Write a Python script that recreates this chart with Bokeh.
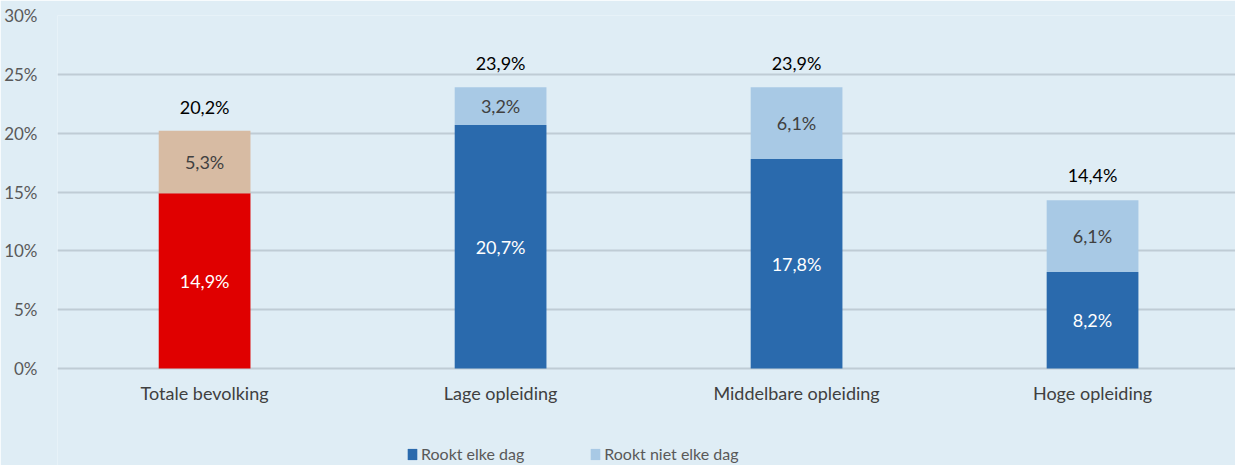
from bokeh.plotting import figure
from bokeh.models import (ColumnDataSource, Range1d, FixedTicker, PrintfTickFormatter,
                          Legend, LegendItem)
from bokeh.core.properties import value
from bokeh.embed import file_html
from bokeh.resources import INLINE

categories = ["Totale bevolking", "Lage opleiding", "Middelbare opleiding", "Hoge opleiding"]
daily = [14.9, 20.7, 17.8, 8.2]
nondaily = [5.3, 3.2, 6.1, 6.1]
totals = [20.2, 23.9, 23.9, 14.4]
y_ticks = [0, 5, 10, 15, 20, 25, 30]
legend_labels = ["Rookt elke dag", "Rookt niet elke dag"]

FONT = "Lato"
BG = "#dfedf5"

def fmt(v):
    return f"{v:.1f}".replace(".", ",") + "%"

xs = list(range(len(categories)))
tops = [d + n for d, n in zip(daily, nondaily)]

# frame spans from the 30% line down to the bottom of the picture
p = figure(width=1235, height=465, output_backend="svg", toolbar_location=None,
           x_range=Range1d(-0.497, 3.483), y_range=Range1d(-8.243, 30),
           min_border_left=57, min_border_right=0, min_border_top=15, min_border_bottom=0)
p.background_fill_color = BG
p.border_fill_color = BG
p.outline_line_color = None

# bars
src_tot = ColumnDataSource(dict(x=xs[:1], daily=daily[:1], top=tops[:1]))
src_edu = ColumnDataSource(dict(x=xs[1:], daily=daily[1:], top=tops[1:]))
W = 0.31
p.vbar(x="x", bottom=0, top="daily", width=W, source=src_tot, fill_color="#e00000", line_color=None)
p.vbar(x="x", bottom="daily", top="top", width=W, source=src_tot, fill_color="#d7bba3", line_color=None)
r1 = p.vbar(x="x", bottom=0, top="daily", width=W, source=src_edu, fill_color="#2a6aad", line_color=None)
r2 = p.vbar(x="x", bottom="daily", top="top", width=W, source=src_edu, fill_color="#a8c9e5", line_color=None)

# labels
lab = ColumnDataSource(dict(
    x=xs,
    zero=[0] * len(xs),
    cat=categories,
    ymid_d=[d / 2 for d in daily],
    ymid_n=[d + n / 2 for d, n in zip(daily, nondaily)],
    ytot=totals,
    t_d=[fmt(v) for v in daily],
    t_n=[fmt(v) for v in nondaily],
    t_tot=[fmt(v) for v in totals],
))
common = dict(text_font=value(FONT), text_font_size="18px", text_align="center")
p.text(x="x", y="ymid_d", text="t_d", source=lab, text_color="white", text_baseline="middle", **common)
p.text(x="x", y="ymid_n", text="t_n", source=lab, text_color="#404040", text_baseline="middle", **common)
p.text(x="x", y="ytot", text="t_tot", source=lab, text_color="#000000", text_baseline="middle",
       y_offset=-24, **common)
# category labels (x axis)
p.text(x="x", y="zero", text="cat", source=lab, text_color="#404040", text_baseline="middle",
       y_offset=24, **common)

# axes
p.xaxis.visible = False
p.yaxis.ticker = FixedTicker(ticks=y_ticks)
p.yaxis.formatter = PrintfTickFormatter(format="%d%%")
p.yaxis.axis_line_color = None
p.yaxis.major_tick_line_color = None
p.yaxis.minor_tick_line_color = None
p.yaxis.major_label_text_font = FONT
p.yaxis.major_label_text_font_size = "17px"
p.yaxis.major_label_text_color = "#595959"
p.yaxis.major_label_standoff = 14

p.xgrid.grid_line_color = None
p.ygrid.ticker = FixedTicker(ticks=y_ticks)
p.ygrid.grid_line_color = "#bfccd5"
p.ygrid.grid_line_width = 2

legend = Legend(items=[LegendItem(label=legend_labels[0], renderers=[r1]),
                       LegendItem(label=legend_labels[1], renderers=[r2])],
                orientation="horizontal", location=(349, 2),
                glyph_width=12, glyph_height=14, label_standoff=3, spacing=65,
                padding=0, margin=0, border_line_color=None, background_fill_alpha=0,
                label_text_font=FONT, label_text_font_size="16px", label_text_color="#595959")
p.add_layout(legend, "center")

open("out.html", "w").write(file_html(p, INLINE))
